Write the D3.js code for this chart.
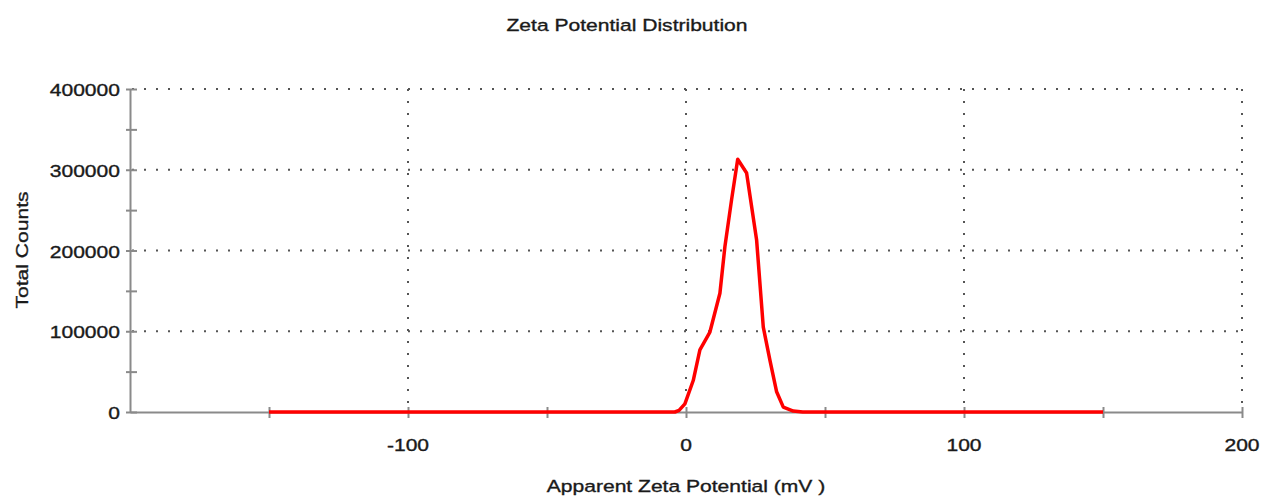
<!DOCTYPE html>
<html>
<head>
<meta charset="utf-8">
<script src="https://cdn.jsdelivr.net/npm/d3@7/dist/d3.min.js"></script>
<style>
  body { margin: 0; background: #fff; }
  text { font-family: Arial, "Liberation Sans", sans-serif; font-size: 17px; fill: #1a1a1a; stroke: #1a1a1a; stroke-width: 0.35px; }
</style>
</head>
<body>
<svg id="chart" width="1265" height="497"></svg>
<script>
// zeta potential distribution
var zetaMv = [-150, -4, -2.5, -0.4, 2.6, 5, 8.6, 12.2, 14, 16.4, 18.6, 21.8, 25.4, 27.8, 30.2, 32.6, 35, 38.6, 42, 150];
var totalCounts = [0, 0, 2000, 10000, 39000, 77000, 99000, 147000, 205000, 263000, 313000, 296000, 213000, 105000, 64000, 25000, 6000, 1200, 0, 0];

var xMajor = [-100, 0, 100, 200];
var xMinor = [-150, -50, 50, 150];
var yMajor = [0, 100000, 200000, 300000, 400000];
var yMinor = [50000, 150000, 250000, 350000];

var svg = d3.select("#chart");
var stretch = 1.24; // the glyphs in the original are drawn wide

var x = d3.scaleLinear().domain([-200, 200]).range([130, 1242]);
var y = d3.scaleLinear().domain([0, 400000]).range([412, 89]);

// text helper: wide glyphs, optional rotation
function label(str, px, py, anchor, rotate) {
    return svg.append("text")
        .attr("transform", "translate(" + px + "," + py + ")" + (rotate ? " rotate(-90)" : "") + " scale(" + stretch + ",1)")
        .attr("text-anchor", anchor)
        .text(str);
}

// dotted grid
var grid = svg.append("g").attr("class", "grid")
    .attr("stroke", "#555").attr("stroke-width", 2).attr("stroke-dasharray", "2,10");
yMajor.filter(function (d) { return d > 0; }).forEach(function (d) {
    grid.append("line").attr("x1", x(-200) + 2).attr("x2", x(200)).attr("y1", y(d)).attr("y2", y(d));
});
xMajor.forEach(function (d) {
    grid.append("line").attr("x1", x(d)).attr("x2", x(d)).attr("y1", y(400000)).attr("y2", y(0));
});

// axes (d3 axes, then ticks made to cross the axis line)
var axisColor = "#8a8a8a";
var gx = svg.append("g").attr("transform", "translate(0," + y(0) + ")")
    .call(d3.axisBottom(x).tickValues(xMajor.concat(xMinor)).tickFormat("").tickSizeOuter(0));
gx.selectAll(".tick line").attr("y1", -5).attr("y2", 6);
var gy = svg.append("g").attr("transform", "translate(" + x(-200) + ",0)")
    .call(d3.axisLeft(y).tickValues(yMajor.concat(yMinor)).tickFormat("").tickSizeOuter(0));
gy.selectAll(".tick line").attr("x1", -4).attr("x2", 7);
[gx, gy].forEach(function (g) {
    g.select(".domain").attr("stroke", axisColor).attr("stroke-width", 2);
    g.selectAll(".tick line").attr("stroke", axisColor).attr("stroke-width", 2);
});

// tick labels (plain hyphen for negatives, as in the original)
yMajor.forEach(function (d) {
    label(String(d), 120, y(d) + 7, "end");
});
xMajor.forEach(function (d) {
    label(String(d), x(d), 451, "middle");
});

// titles
label("Zeta Potential Distribution", 627, 31, "middle");
label("Apparent Zeta Potential (mV )", 686, 492, "middle");
label("Total Counts", 28, 250, "middle", true);

// distribution curve
var line = d3.line()
    .x(function (d, i) { return x(zetaMv[i]); })
    .y(function (d) { return y(d); });
svg.append("path")
    .datum(totalCounts)
    .attr("fill", "none")
    .attr("stroke", "#ff0000")
    .attr("stroke-width", 3.5)
    .attr("stroke-linejoin", "round")
    .attr("d", line);
</script>
</body>
</html>
